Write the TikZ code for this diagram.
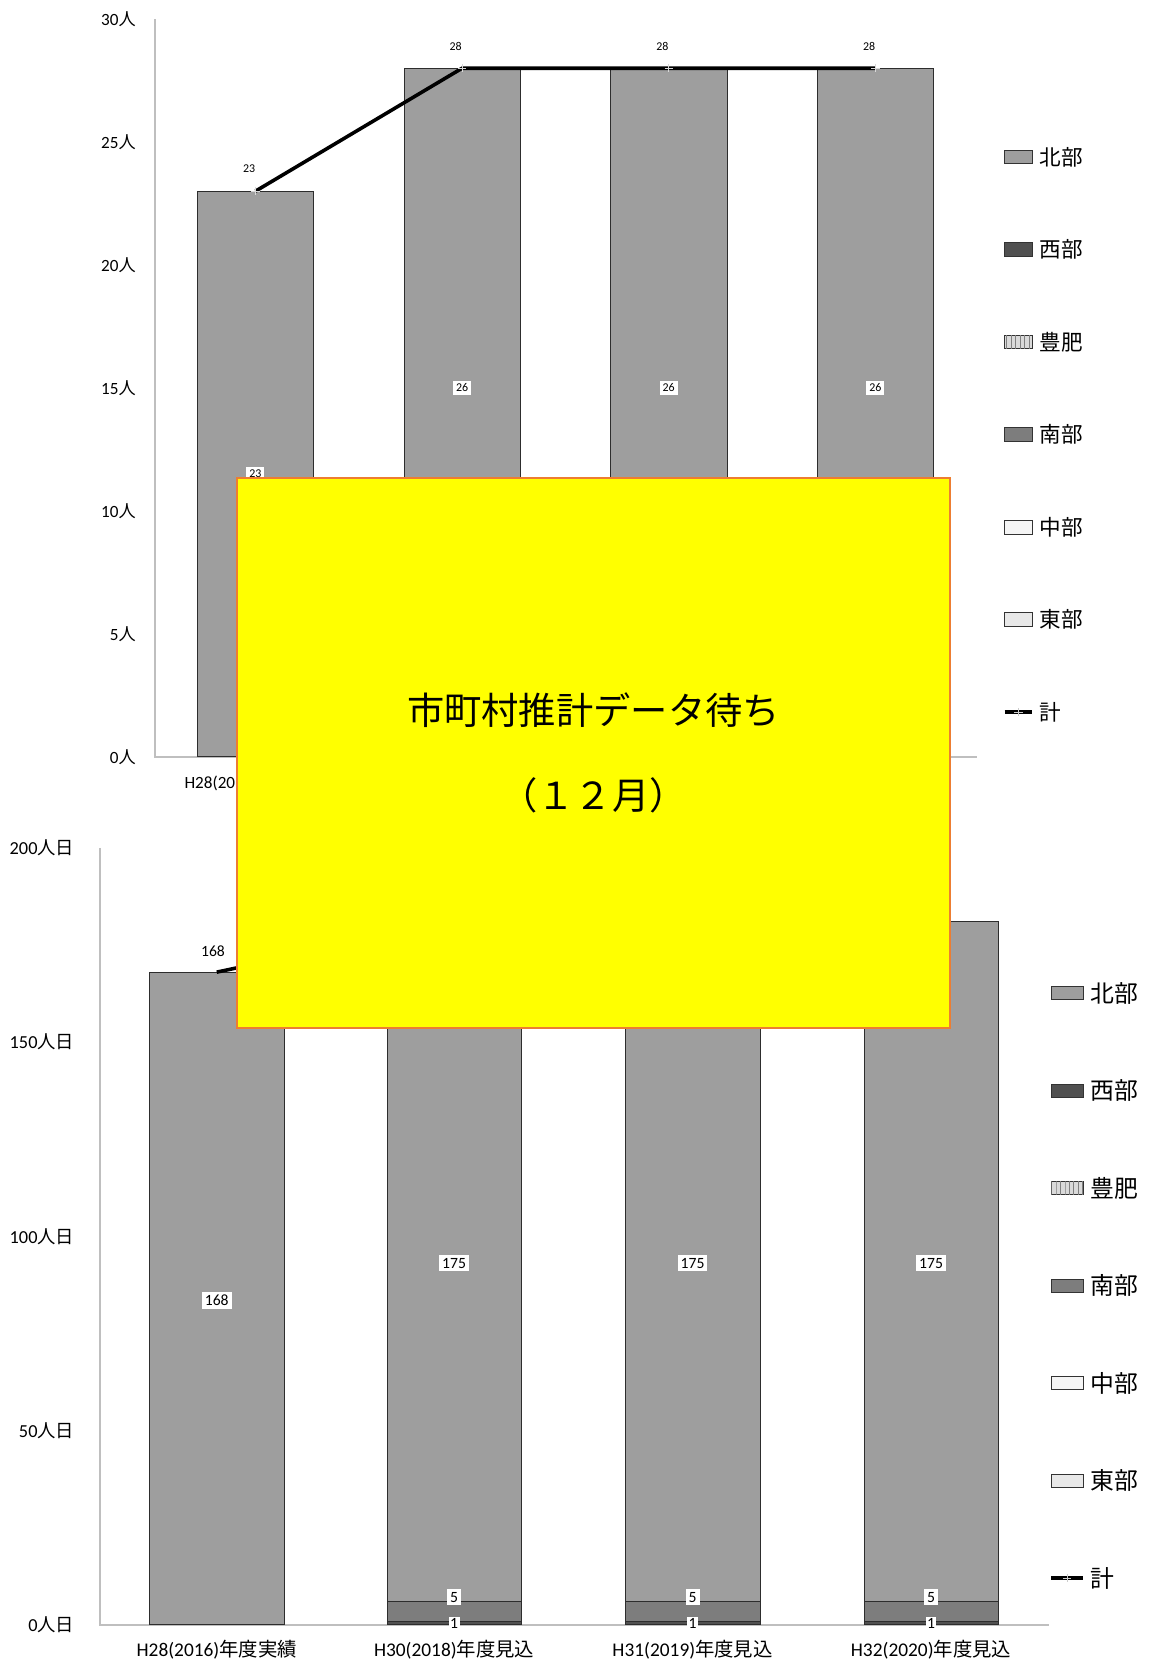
\documentclass[tikz,border=0pt]{standalone}
\usepackage{fontspec}
\setmainfont{Carlito}
\newfontfamily\jp{Noto Sans CJK JP}
\usetikzlibrary{patterns}
\definecolor{hokubu}{RGB}{158,158,158}
\definecolor{seibu}{RGB}{80,80,80}
\definecolor{hohi}{RGB}{218,218,218}
\definecolor{nanbu}{RGB}{125,125,125}
\definecolor{chubu}{RGB}{245,245,245}
\definecolor{tobu}{RGB}{232,232,232}
\definecolor{kiiro}{RGB}{255,255,0}
\definecolor{waku}{RGB}{237,125,49}
\newcommand{\hito}{{\jp 人}}

\begin{document}
\begin{tikzpicture}[x=0.025cm,y={(0cm,-0.025cm)},
  axisline/.style={draw=gray!50,line width=1.2pt},
  seg/.style={draw=gray!35!black,line width=0.3pt},
  keisen/.style={line width=2.4pt,black},
  vlab/.style={fill=white,inner sep=2pt,font=\fontsize{8}{9}\selectfont},
  blab/.style={fill=white,inner sep=2pt,font=\fontsize{10.5}{12}\selectfont},
  swatch/.style={draw=gray!40!black,line width=0.4pt}]
  \useasboundingbox (0,0) rectangle (1085,1572);

  \draw[axisline] (146,18) -- (146,714) -- (922,714);
  \foreach \v in {0,5,...,30}
    \node[anchor=east,font=\fontsize{11.5}{13}\selectfont] (ty\v) at (133,714-23.2*\v) {\v\hito};

  \filldraw[seg,fill=hokubu] (186,714) rectangle (296,180.4);
  \foreach \c in {436,631,826}
  {
    \filldraw[seg,fill=nanbu] (\c-55,714) rectangle (\c+55,667.6);
    \filldraw[seg,fill=hokubu] (\c-55,667.6) rectangle (\c+55,64.4);
  }
  \node[vlab] (tv1) at (241,447) {23};
  \foreach \i/\c in {2/436,3/631,4/826}
    \node[vlab] (tv\i) at (\c,366) {26};

  \foreach \i/\c/\v in {1/241/23,2/436/28,3/631/28,4/826/28}
  {
    \coordinate (tp\i) at (\c,714-23.2*\v);
    \node[font=\fontsize{8}{9}\selectfont] (tt\i) at (\c-6,714-23.2*\v-21) {\v};
  }
  \draw[keisen] (tp1) -- (tp2) -- (tp3) -- (tp4);
  \foreach \i in {1,...,4}
    \draw[gray!30,thin] (tp\i) +(-4,0) -- +(4,0) (tp\i) +(0,-4) -- +(0,4);

  \node[font=\fontsize{11.5}{13}\selectfont] (tx1) at (241,738) {H28(2016){\jp 年度実績}};

  \draw[axisline] (94,800) -- (94,1533) -- (990,1533);
  \foreach \v in {0,50,...,200}
    \node[anchor=east,font=\fontsize{12.3}{14}\selectfont] (by\v) at (75,1533-3.665*\v) {\v{\jp 人日}};

  \filldraw[seg,fill=hokubu] (141,1533) rectangle (268,917.3);
  \foreach \c in {428.5,653.5,878.5}
  {
    \filldraw[seg,fill=seibu] (\c-63.5,1533) rectangle (\c+63.5,1529.3);
    \filldraw[seg,fill=nanbu] (\c-63.5,1529.3) rectangle (\c+63.5,1511);
    \filldraw[seg,fill=hokubu] (\c-63.5,1511) rectangle (\c+63.5,869.6);
  }
  \node[blab] (bv1) at (204.5,1227) {168};
  \foreach \i/\c in {2/428.5,3/653.5,4/878.5}
  {
    \node[blab] (bv\i) at (\c,1192) {175};
    \node[blab] (bw\i) at (\c,1507) {5};
    \node[blab,inner sep=1pt] (bz\i) at (\c,1532) {1};
  }
  \foreach \i/\c/\v in {1/204.5/168,2/428.5/181,3/653.5/181,4/878.5/181}
    \coordinate (bp\i) at (\c,1533-3.665*\v);
  \node[font=\fontsize{10.5}{12}\selectfont] (bt1) at (201,898) {168};
  \draw[keisen] (bp1) -- (bp2) -- (bp3) -- (bp4);

  \foreach \i/\c/\n/\k in {1/204.5/H28(2016)/実績,2/428.5/H30(2018)/見込,3/653.5/H31(2019)/見込,4/878.5/H32(2020)/見込}
    \node[font=\fontsize{13}{15}\selectfont] (bx\i) at (\c,1557) {\n{\jp 年度\k}};

  \draw[fill=kiiro,draw=waku,line width=1.4pt] (224,451) rectangle (896,970);
  \node[font=\fontsize{25}{28}\jp] (mati1) at (560,670) {市町村推計データ待ち};
  \node[font=\fontsize{25}{28}\jp] (mati2) at (560,750) {（１２月）};

  \foreach \i/\f/\t in {0/hokubu/北部,1/seibu/西部,2/hohi/豊肥,3/nanbu/南部,4/chubu/中部,5/tobu/東部}
  {
    \filldraw[swatch,fill=\f] (948,148+87.3*\i-6.5) rectangle (974,148+87.3*\i+6.5);
    \node[anchor=west,font=\fontsize{14.5}{16}\jp] (tl\i) at (976,148+87.3*\i) {\t};
    \filldraw[swatch,fill=\f] (992,937+92*\i-6) rectangle (1022,937+92*\i+6);
    \node[anchor=west,font=\fontsize{16}{18}\jp] (bl\i) at (1024,937+92*\i) {\t};
  }
  \fill[pattern=vertical lines,pattern color=gray] (948,316.1) rectangle (974,329.1);
  \fill[pattern=vertical lines,pattern color=gray] (992,1115) rectangle (1022,1127);
  \coordinate (tk0) at (948,672);
  \coordinate (tk1) at (974,672);
  \coordinate (tkm) at (961,672);
  \draw[keisen] (tk0) -- (tk1);
  \draw[gray!40,thin] (tkm) +(-4,0) -- +(4,0) (tkm) +(0,-4) -- +(0,4);
  \node[anchor=west,font=\fontsize{14.5}{16}\jp] (tl6) at (976,672) {計};
  \coordinate (bk0) at (992,1489);
  \coordinate (bk1) at (1022,1489);
  \coordinate (bkm) at (1007,1489);
  \draw[keisen] (bk0) -- (bk1);
  \draw[gray!40,thin] (bkm) +(-4,0) -- +(4,0) (bkm) +(0,-4) -- +(0,4);
  \node[anchor=west,font=\fontsize{16}{18}\jp] (bl6) at (1024,1489) {計};
\end{tikzpicture}
\end{document}
